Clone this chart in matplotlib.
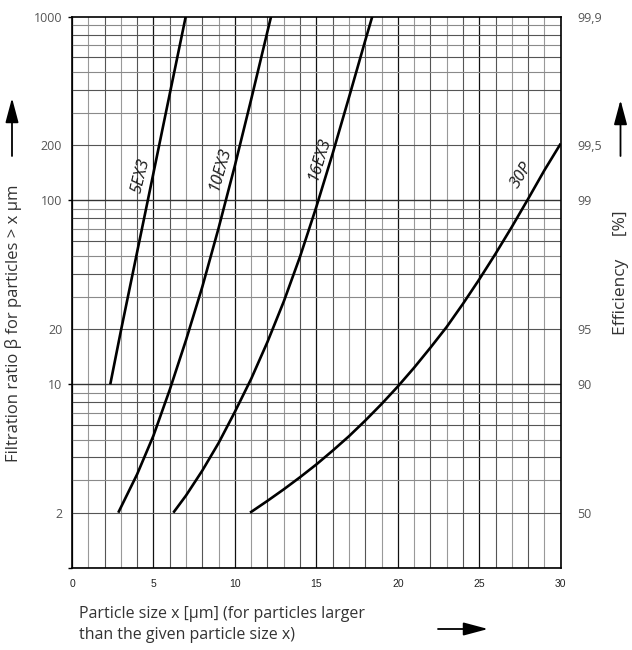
import matplotlib
matplotlib.use('Agg')
import matplotlib.pyplot as plt
import matplotlib.ticker as ticker
from matplotlib.patches import FancyArrowPatch

# curve readings (particle size x [um], filtration ratio beta)
x_5ex3 = [2.35, 3, 4, 5, 6, 6.98]
b_5ex3 = [10, 19.5, 52.5, 141, 380, 1000]

x_10ex3 = [2.84, 4, 5, 6, 7, 8, 9, 10, 11, 12, 12.22]
b_10ex3 = [2, 3.24, 5.25, 9.33, 17.4, 33.9, 70.8, 155, 355, 832, 1000]

x_16ex3 = [6.22, 7, 8, 9, 10, 11, 12, 13, 14, 15, 16, 17, 18, 18.43]
b_16ex3 = [2, 2.48, 3.39, 4.79, 7.08, 10.7, 17.0, 28.2, 49.5, 92.3, 180, 363, 741, 1000]

x_30p = [10.93, 12, 13, 14, 15, 16, 17, 18, 19, 20, 21, 22, 23, 24, 25, 26, 27, 28, 29, 30]
b_30p = [2.0, 2.32, 2.68, 3.12, 3.66, 4.35, 5.21, 6.34, 7.80, 9.72, 12.3, 15.8, 20.5,
         27.4, 37.2, 51.3, 71.8, 102, 146, 204]

curve_names = ['5EX3', '10EX3', '16EX3', '30P']
label_pos = [(4.2, 137), (9.05, 150), (15.15, 170), (27.6, 137)]
label_rot = [76, 74, 73, 58]

beta_ticks = [2, 10, 20, 100, 200, 1000]
eff_labels = ['50', '90', '95', '99', '99,5', '99,9']

W, H = 632, 650
fig = plt.figure(figsize=(W / 100, H / 100), dpi=100)
ax = fig.add_axes([72 / W, 82 / H, 488.7 / W, 551.3 / H])
ax.set_xlim(0, 30)
ax.set_yscale('log')
ax.set_ylim(1, 1000)

# grid paper
for i in range(31):
    if i % 5 == 0:
        c, lw = '#111111', 0.9
    elif i % 2 == 0:
        c, lw = '#555555', 0.8
    else:
        c, lw = '#999999', 0.8
    ax.axvline(i, color=c, lw=lw, zorder=1)
for dec in [1, 10, 100]:
    for m in range(1, 10):
        if m == 1:
            c, lw = '#333333', 1.0
        elif m % 2 == 0:
            c, lw = '#555555', 0.8
        else:
            c, lw = '#8a8a8a', 0.8
        ax.axhline(dec * m, color=c, lw=lw, zorder=1)

for xs, bs in [(x_5ex3, b_5ex3), (x_10ex3, b_10ex3), (x_16ex3, b_16ex3), (x_30p, b_30p)]:
    ax.plot(xs, bs, color='black', lw=1.9, solid_capstyle='butt', zorder=3)

for name, (lx, ly), rot in zip(curve_names, label_pos, label_rot):
    ax.text(lx, ly, name, rotation=rot, ha='center', va='center', fontsize=12,
            style='italic', family='Open Sans', color='#1a1a1a', zorder=4)

for s in ax.spines.values():
    s.set_linewidth(1.2)
    s.set_zorder(5)

# left axis ticks
ax.yaxis.set_major_locator(ticker.FixedLocator([1, 10, 100, 1000]))
ax.yaxis.set_major_formatter(ticker.FixedFormatter(['', '10', '100', '1000']))
ax.yaxis.set_minor_locator(ticker.FixedLocator([2, 20, 200]))
ax.yaxis.set_minor_formatter(ticker.FixedFormatter(['2', '20', '200']))
ax.tick_params(axis='y', which='major', length=3, width=1, pad=4,
               labelsize=9, labelcolor='#555555')
ax.tick_params(axis='y', which='minor', length=0, pad=7,
               labelsize=9, labelcolor='#555555')
for lab in ax.get_yticklabels(which='both'):
    lab.set_family('Open Sans')

ax.set_xticks(range(0, 31, 5))
ax.tick_params(axis='x', length=0, pad=8, labelsize=7.5, labelcolor='#222222')
for lab in ax.get_xticklabels():
    lab.set_family('Liberation Sans')

# right axis: efficiency
ax2 = ax.twinx()
ax2.set_yscale('log')
ax2.set_ylim(1, 1000)
ax2.yaxis.set_major_locator(ticker.FixedLocator(beta_ticks))
ax2.yaxis.set_major_formatter(ticker.FixedFormatter(eff_labels))
ax2.yaxis.set_minor_locator(ticker.NullLocator())
ax2.tick_params(axis='y', length=0, pad=12, labelsize=9, labelcolor='#555555')
for lab in ax2.get_yticklabels():
    lab.set_family('Open Sans')
for s in ax2.spines.values():
    s.set_visible(False)

# axis titles
fig.text(14 / W, 1 - 323 / H, 'Filtration ratio β for particles > x µm', rotation=90,
         ha='center', va='center', fontsize=12, family='Open Sans', color='#333333')
fig.text(621 / W, 1 - 273 / H, 'Efficiency     [%]', rotation=90,
         ha='center', va='center', fontsize=12.5, family='Open Sans', color='#333333')
fig.text(79 / W, 1 - 606 / H, 'Particle size x [µm] (for particles larger\nthan the given particle size x)',
         ha='left', va='top', fontsize=11.5, family='Open Sans', color='#333333',
         linespacing=1.45)

# arrows
arrow = dict(arrowstyle='-|>,head_length=1.5,head_width=0.4', color='black', lw=1.3,
             shrinkA=0, shrinkB=0, mutation_scale=10, transform=None)
fig.add_artist(FancyArrowPatch((12, H - 156), (12, H - 98), **arrow))
fig.add_artist(FancyArrowPatch((620.5, H - 156), (620.5, H - 100), **arrow))
fig.add_artist(FancyArrowPatch((438, H - 629), (488, H - 629), **arrow))

fig.savefig('out.png', dpi=100)
